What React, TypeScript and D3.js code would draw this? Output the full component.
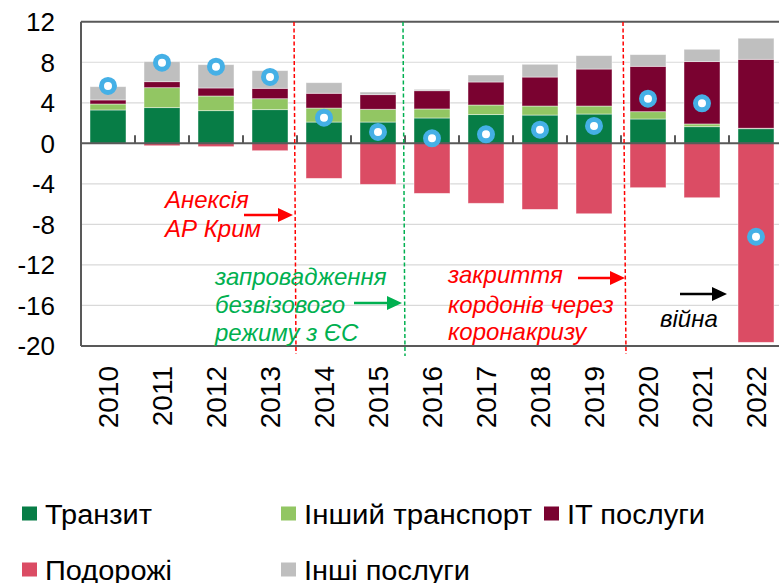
import React from "react";
import * as d3 from "d3";

const years = ["2010","2011","2012","2013","2014","2015","2016","2017","2018","2019","2020","2021","2022"];
const transit = [3.29,3.52,3.22,3.32,2.10,2.10,2.50,2.83,2.79,2.89,2.40,1.64,1.44];
const otherTransport = [0.59,1.97,1.45,1.08,1.38,1.26,0.89,0.95,0.89,0.79,0.72,0.27,0.05];
const itServices = [0.40,0.59,0.79,1.03,1.46,1.44,1.80,2.27,2.86,3.65,4.48,6.15,6.80];
const travel = [-0.05,-0.24,-0.33,-0.73,-3.46,-4.05,-4.94,-5.92,-6.52,-6.95,-4.38,-5.37,-19.64];
const otherServices = [1.31,1.98,2.30,1.74,1.04,0.26,0.14,0.69,1.26,1.32,1.15,1.22,2.08];
const balance = [5.66,7.96,7.56,6.55,2.53,1.12,0.49,0.89,1.34,1.71,4.40,3.95,-9.22];
const yTicks = [12,8,4,0,-4,-8,-12,-16,-20];

const seriesKeys = ["transit","otherTransport","it","travel","otherServices"];
const seriesNames: Record<string,string> = {
  transit: "Транзит",
  otherTransport: "Інший транспорт",
  it: "IT послуги",
  travel: "Подорожі",
  otherServices: "Інші послуги",
};
const colors: Record<string,string> = {
  transit: "#077D46",
  otherTransport: "#92C663",
  it: "#7A0230",
  travel: "#DB4C64",
  otherServices: "#BFBFBF",
};

const FONT = "Arial, 'Liberation Sans', sans-serif";

function Arrow({x1,x2,y,color}:{x1:number;x2:number;y:number;color:string}) {
  const head = 15;
  return (
    <g>
      <line x1={x1} y1={y} x2={x2-head+2} y2={y} stroke={color} strokeWidth={2.5}/>
      <path d={`M${x2},${y} L${x2-head},${y-7} L${x2-head},${y+7} Z`} fill={color}/>
    </g>
  );
}

export default function App() {
  const W = 779, H = 583;
  const left = 81, right = 783, top = 21.7, bottom = 346;
  const x = d3.scaleBand<string>().domain(years).range([left, right]).paddingInner(1/3).paddingOuter(1/6);
  const band = d3.scaleBand<string>().domain(years).range([left, right]);
  const y = d3.scaleLinear().domain([-20, 12]).range([bottom, top]);

  const table = years.map((yr, i) => ({
    year: yr,
    transit: transit[i],
    otherTransport: otherTransport[i],
    it: itServices[i],
    travel: travel[i],
    otherServices: otherServices[i],
  }));
  const stack = d3.stack<any>().keys(seriesKeys).offset(d3.stackOffsetDiverging);
  const series = stack(table);

  const legendRows = [
    [{k:"transit",x:22,len:107},{k:"otherTransport",x:281,len:228},{k:"it",x:544,len:138}],
    [{k:"travel",x:22,len:127},{k:"otherServices",x:281,len:166}],
  ];
  const legendY = [524, 580];

  return (
    <svg width={W} height={H} style={{position:"absolute",left:0,top:0,background:"#fff"}} fontFamily={FONT}>
      {/* gridlines */}
      {yTicks.filter(t => t!==0 && t!==12 && t!==-20).map(t => (
        <line key={t} x1={left} x2={W} y1={y(t)} y2={y(t)} stroke="#D9D9D9" strokeWidth={1.2}/>
      ))}
      {/* bars */}
      {series.map(s => (
        <g key={s.key}>
          {s.map((d, i) => (
            <rect key={i} x={x(years[i])} width={x.bandwidth()}
              y={y(Math.max(d[0], d[1]))} height={Math.abs(y(d[0]) - y(d[1]))}
              fill={colors[s.key]} stroke="rgba(255,255,255,0.55)" strokeWidth={0.8}/>
          ))}
        </g>
      ))}
      {/* frame */}
      <line x1={left} x2={W} y1={top} y2={top} stroke="#595959" strokeWidth={2}/>
      <line x1={left} x2={W} y1={bottom} y2={bottom} stroke="#595959" strokeWidth={2}/>
      <line x1={left} x2={left} y1={top} y2={bottom} stroke="#595959" strokeWidth={2}/>
      <line x1={left} x2={W} y1={y(0)} y2={y(0)} stroke="#595959" strokeWidth={2}/>
      {years.slice(1).map(yr => (
        <line key={yr} x1={band(yr)} x2={band(yr)} y1={y(0)} y2={y(0)-8} stroke="#595959" strokeWidth={2}/>
      ))}
      {/* y labels */}
      {yTicks.map(t => (
        <text key={t} x={55} y={y(t)} dy="0.36em" textAnchor="end" fontSize={26} fill="#000">{t}</text>
      ))}
      {/* x labels */}
      {years.map(yr => (
        <text key={yr} transform={`translate(${(band(yr) as number) + band.bandwidth()/2},366) rotate(-90)`}
          textAnchor="end" dy="0.36em" fontSize={28} fill="#000">{yr}</text>
      ))}
      {/* event lines */}
      <line x1={294} y1={22} x2={296} y2={354} stroke="#FF0000" strokeWidth={1.5} strokeDasharray="4,2.5"/>
      <line x1={403} y1={22} x2={405} y2={356} stroke="#00B050" strokeWidth={1.5} strokeDasharray="4,2.5"/>
      <line x1={623} y1={22} x2={626} y2={354} stroke="#FF0000" strokeWidth={1.5} strokeDasharray="4,2.5"/>
      {/* balance dots */}
      {balance.map((b, i) => (
        <circle key={i} cx={(x(years[i]) as number) + x.bandwidth()/2} cy={y(b)} r={6.5}
          fill="#fff" stroke="#45B0E6" strokeWidth={5}/>
      ))}
      {/* annotations */}
      <g fontStyle="italic" fontSize={24}>
        <text x={165} y={208} fill="#FF0000">Анексія</text>
        <text x={165} y={237} fill="#FF0000">АР Крим</text>
        <Arrow x1={244} x2={293} y={215} color="#FF0000"/>
        <text x={215} y={285} fill="#00B050">запровадження</text>
        <text x={215} y={313} fill="#00B050">безвізового</text>
        <text x={215} y={341} fill="#00B050">режиму з ЄС</text>
        <Arrow x1={354} x2={402} y={303} color="#00B050"/>
        <text x={448} y={283} fill="#FF0000">закриття</text>
        <text x={448} y={313} fill="#FF0000">кордонів через</text>
        <text x={448} y={340} fill="#FF0000">коронакризу</text>
        <Arrow x1={578} x2={625} y={278} color="#FF0000"/>
        <text x={660} y={327} fill="#000">війна</text>
        <Arrow x1={680} x2={727} y={294} color="#000"/>
      </g>
      {/* legend */}
      {legendRows.map((row, ri) => row.map(it => (
        <g key={it.k}>
          <rect x={it.x} y={legendY[ri]-17.5} width={15} height={14} fill={colors[it.k]}/>
          <text x={it.x+23} y={legendY[ri]} fontSize={27} fill="#000"
            textLength={it.len} lengthAdjust="spacingAndGlyphs">{seriesNames[it.k]}</text>
        </g>
      )))}
    </svg>
  );
}
